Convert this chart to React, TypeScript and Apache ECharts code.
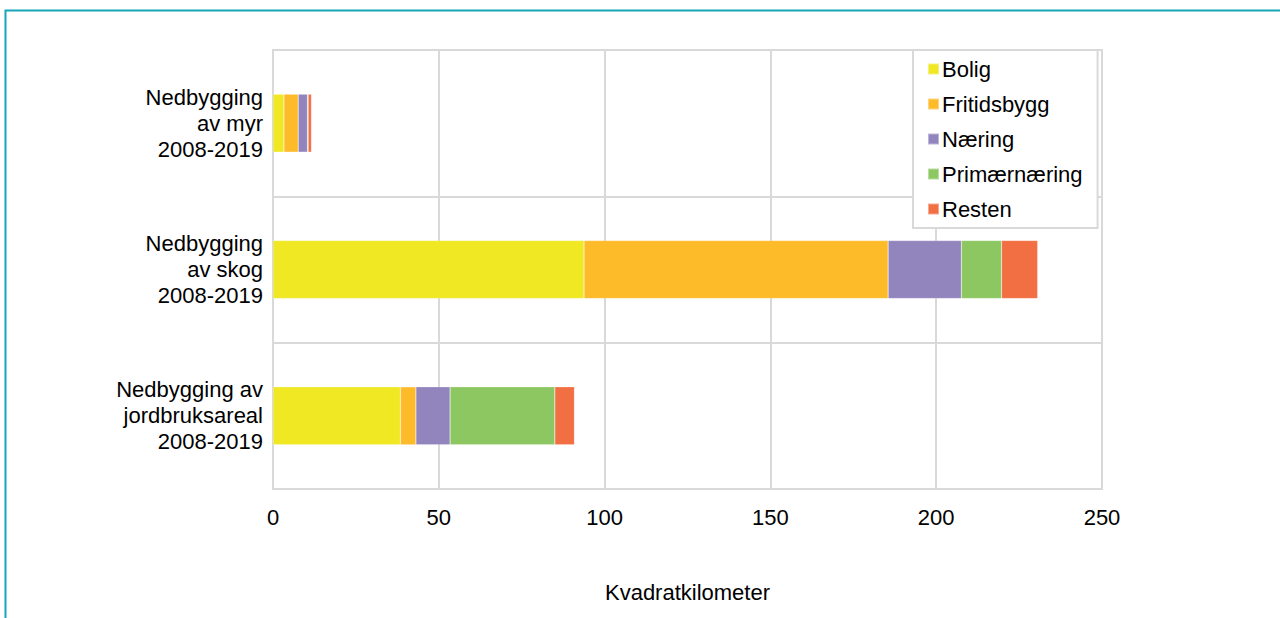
import React, { useEffect, useRef } from "react";
import * as echarts from "echarts";

const categories = [
  "Nedbygging\nav myr\n2008-2019",
  "Nedbygging\nav skog\n2008-2019",
  "Nedbygging av\njordbruksareal\n2008-2019",
];
const seriesNames = ["Bolig", "Fritidsbygg", "Næring", "Primærnæring", "Resten"];
const bolig = [3.3, 93.8, 38.4];
const fritidsbygg = [4.3, 91.7, 4.7];
const naering = [2.8, 22.1, 10.3];
const primaernaering = [0.2, 12.1, 31.6];
const resten = [1.0, 10.9, 5.9];
const xTicks = [0, 50, 100, 150, 200, 250];
const colors = ["#EFE823", "#FDBB2A", "#9285BE", "#8CC762", "#F26E43"];

export default function App() {
  const ref = useRef<HTMLDivElement>(null);
  useEffect(() => {
    if (!ref.current) return;
    const chart = echarts.init(ref.current, null, { renderer: "svg" });
    const values = [bolig, fritidsbygg, naering, primaernaering, resten];
    const font = "Liberation Sans, Arial, sans-serif";
    const fs = 22;
    chart.setOption({
      animation: false,
      textStyle: { fontFamily: font },
      graphic: [
        {
          type: "rect",
          shape: { x: 5.5, y: 10.5, width: 1400, height: 700 },
          style: { fill: "none", stroke: "#17A6B8", lineWidth: 2 },
          silent: true,
        },
      ],
      grid: {
        left: 273,
        right: 178,
        top: 50,
        bottom: 129,
        show: true,
        borderColor: "#D9D9D9",
        borderWidth: 2,
        backgroundColor: "transparent",
      },
      legend: {
        orient: "vertical",
        left: 913,
        top: 50,
        data: seriesNames,
        backgroundColor: "#FFFFFF",
        borderColor: "#D9D9D9",
        borderWidth: 2,
        padding: [8, 15, 8, 14],
        itemWidth: 11,
        itemHeight: 11,
        itemGap: 13,
        icon: "rect",
        textStyle: { fontSize: fs, color: "#000", fontFamily: font, padding: [0, 0, 0, -2] },
      },
      xAxis: {
        type: "value",
        min: 0,
        max: 250,
        interval: 50,
        name: "Kvadratkilometer",
        nameLocation: "middle",
        nameGap: 92,
        nameTextStyle: { fontSize: fs, color: "#000", fontFamily: font },
        axisLine: { show: false },
        axisTick: { show: false },
        axisLabel: {
          fontSize: fs,
          color: "#000",
          margin: 17,
          formatter: (v: number) => (xTicks.includes(v) ? String(v) : ""),
        },
        splitLine: { show: true, lineStyle: { color: "#D9D9D9", width: 2 } },
      },
      yAxis: {
        type: "category",
        data: categories,
        inverse: true,
        axisLine: { show: true, lineStyle: { color: "#D9D9D9", width: 2 } },
        axisTick: { show: false },
        axisLabel: {
          fontSize: fs,
          color: "#000",
          margin: 10,
          align: "right",
          lineHeight: 26,
        },
        splitLine: { show: true, lineStyle: { color: "#D9D9D9", width: 2 } },
      },
      series: seriesNames.map((name, i) => ({
        name,
        type: "bar",
        stack: "total",
        barWidth: 58,
        data: values[i],
        itemStyle: { color: colors[i], borderColor: "rgba(255,255,255,0.4)", borderWidth: 0.5 },
      })),
    });
    return () => chart.dispose();
  }, []);
  return (
    <div
      ref={ref}
      style={{ position: "absolute", left: 0, top: 0, width: 1280, height: 618, background: "#fff" }}
    />
  );
}
